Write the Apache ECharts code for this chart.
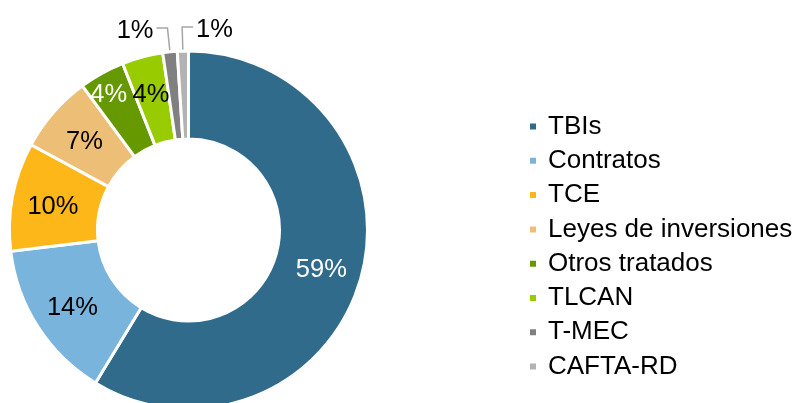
<!DOCTYPE html>
<html>
<head>
<meta charset="utf-8">
<script src="https://cdn.jsdelivr.net/npm/echarts@6/dist/echarts.min.js"></script>
<style>
  html, body { margin: 0; padding: 0; background: #fff; }
  #chart { width: 798px; height: 403px; }
</style>
</head>
<body>
<div id="chart"></div>
<script>
  // categorías y porcentajes
  var categorias = ['TBIs', 'Contratos', 'TCE', 'Leyes de inversiones', 'Otros tratados', 'TLCAN', 'T-MEC', 'CAFTA-RD'];
  var valores = [58.7, 14.4, 9.8, 7.0, 4.1, 3.7, 1.3, 1.0];
  var colores = ['#306B8C', '#79B4DC', '#FDB718', '#EDBE75', '#669900', '#99CC00', '#808080', '#B3B3B3'];
  var colorEtiqueta = ['#fff', '#000', '#000', '#000', '#fff', '#000', '#000', '#000'];

  var CX = 188.5, CY = 230;
  var fuente = 'Liberation Sans, Arial, sans-serif';

  var datos = categorias.map(function (c, i) {
    var item = {
      name: c,
      value: valores[i],
      itemStyle: { color: colores[i] },
      label: { color: colorEtiqueta[i] }
    };
    if (i >= 6) {
      item.label.position = 'outside';
      item.labelLine = { show: true };
    }
    return item;
  });

  var chartDom = document.getElementById('chart');
  var myChart = echarts.init(chartDom);
  var option = {
    animation: false,
    legend: {
      orient: 'vertical',
      left: 528,
      top: 113.5,
      padding: 0,
      icon: 'rect',
      itemWidth: 8,
      itemHeight: 8,
      itemGap: 8.3,
      data: categorias,
      textStyle: {
        fontFamily: fuente,
        fontSize: 26,
        lineHeight: 26,
        color: '#000',
        padding: [0, 0, 0, 6]
      }
    },
    series: [
      {
        type: 'pie',
        center: [CX, CY],
        radius: [91, 179],
        startAngle: 90,
        clockwise: true,
        avoidLabelOverlap: false,
        itemStyle: { borderColor: '#fff', borderWidth: 3 },
        label: {
          show: true,
          position: 'inside',
          fontFamily: fuente,
          fontSize: 25.5,
          formatter: function (p) { return Math.round(p.value) + '%'; }
        },
        labelLine: {
          show: false,
          lineStyle: { color: '#A6A6A6', width: 1.5 }
        },
        labelLayout: function (p) {
          if (p.dataIndex === 4) return { dx: -13, dy: -14 };
          if (p.dataIndex === 5) return { dx: -2, dy: -2 };
          if (p.dataIndex >= 6 && p.labelLinePoints) {
            var e = p.labelLinePoints[0];
            var vx = e[0] - CX, vy = e[1] - CY;
            var l = Math.sqrt(vx * vx + vy * vy);
            vx /= l; vy /= l;
            var s = [CX + vx * 137, CY + vy * 137];
            var b = [CX + vx * 203, CY + vy * 203];
            var izq = p.dataIndex === 6;
            var f = [b[0] + (izq ? -11 : 11), b[1]];
            return {
              x: f[0] + (izq ? -3 : 3),
              y: f[1] + 3,
              align: izq ? 'right' : 'left',
              verticalAlign: 'middle',
              labelLinePoints: [s, b, f]
            };
          }
          return { dy: 3 };
        },
        data: datos
      }
    ]
  };
  myChart.setOption(option);
</script>
</body>
</html>
